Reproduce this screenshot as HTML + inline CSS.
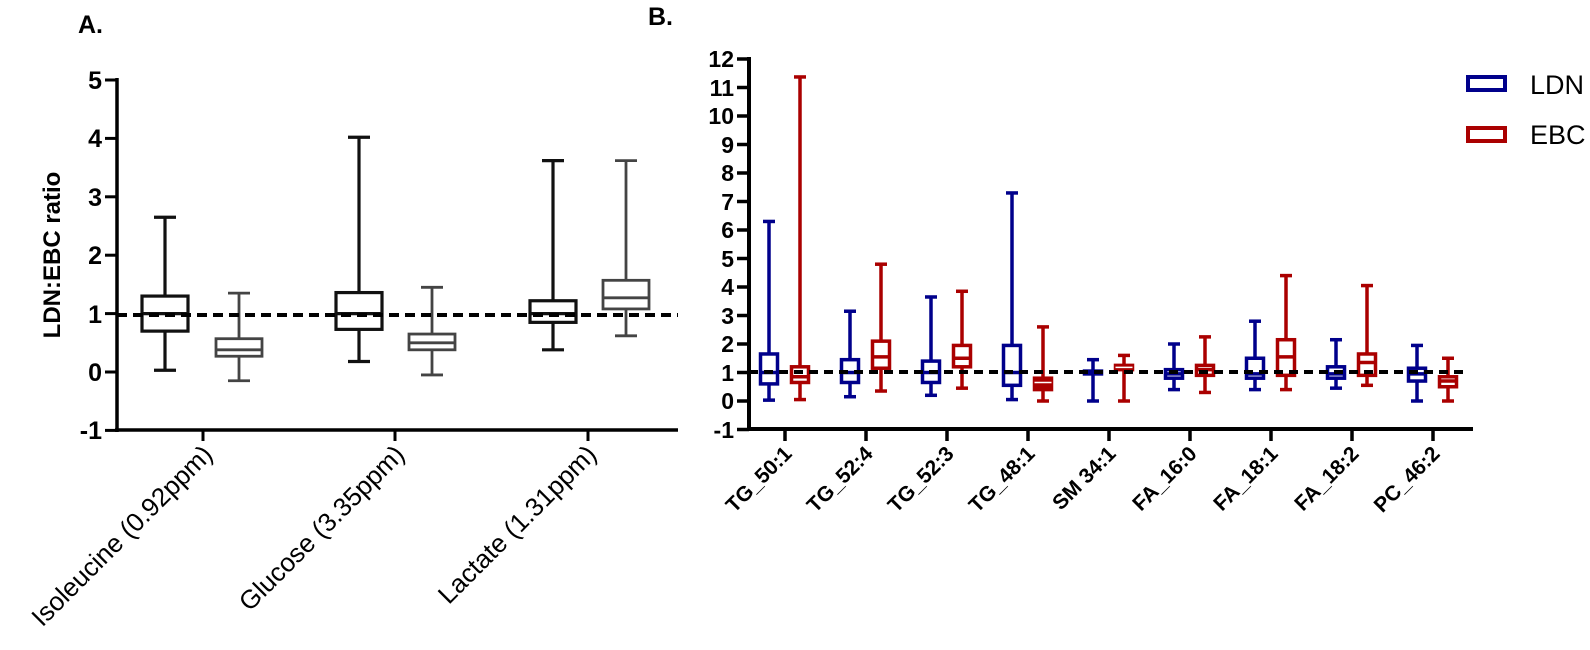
<!DOCTYPE html>
<html><head><meta charset="utf-8"><style>
html,body{margin:0;padding:0;background:#fff;}
svg{display:block;}
.t{font-family:"Liberation Sans Narrow","Liberation Sans",sans-serif;font-weight:bold;}
</style></head><body>
<svg id="s" width="1590" height="650" viewBox="0 0 1590 650" xmlns="http://www.w3.org/2000/svg">
<rect width="1590" height="650" fill="#fff"/>
<text x="78" y="33" font-family="Liberation Sans" font-weight="bold" font-size="25">A.</text>
<text x="648" y="25" font-family="Liberation Sans" font-weight="bold" font-size="25">B.</text>
<text transform="translate(60,255) rotate(-90)" text-anchor="middle" font-family="Liberation Sans" font-weight="bold" font-size="24">LDN:EBC ratio</text>
<g class="t" font-size="25" text-anchor="end">
<text x="102" y="89">5</text><text x="102" y="147">4</text><text x="102" y="206">3</text>
<text x="102" y="264">2</text><text x="102" y="323">1</text><text x="102" y="381">0</text><text x="102" y="439">-1</text>
</g>
<g class="t" font-size="23" text-anchor="end">
<text x="734" y="67">12</text><text x="734" y="96">11</text><text x="734" y="124">10</text>
<text x="734" y="153">9</text><text x="734" y="181">8</text><text x="734" y="210">7</text>
<text x="734" y="238">6</text><text x="734" y="267">5</text><text x="734" y="295">4</text>
<text x="734" y="324">3</text><text x="734" y="352">2</text><text x="734" y="381">1</text>
<text x="734" y="409">0</text><text x="734" y="438">-1</text>
</g>
<g font-family="Liberation Sans" font-size="26" text-anchor="end">
<text transform="translate(214,456) rotate(-45)">Isoleucine (0.92ppm)</text>
<text transform="translate(406,456) rotate(-45)">Glucose (3.35ppm)</text>
<text transform="translate(598,456) rotate(-45)">Lactate (1.31ppm)</text>
</g>
<g font-family="Liberation Sans" font-weight="bold" font-size="21" text-anchor="end">
<text transform="translate(793,455) rotate(-45)">TG_50:1</text>
<text transform="translate(874,455) rotate(-45)">TG_52:4</text>
<text transform="translate(955,455) rotate(-45)">TG_52:3</text>
<text transform="translate(1036,455) rotate(-45)">TG_48:1</text>
<text transform="translate(1117,455) rotate(-45)">SM 34:1</text>
<text transform="translate(1198,455) rotate(-45)">FA_16:0</text>
<text transform="translate(1279,455) rotate(-45)">FA_18:1</text>
<text transform="translate(1360,455) rotate(-45)">FA_18:2</text>
<text transform="translate(1441,455) rotate(-45)">PC_46:2</text>
</g>
<rect x="1468" y="77" width="37" height="13" fill="none" stroke="#00008b" stroke-width="4"/>
<rect x="1468" y="128" width="37" height="13" fill="none" stroke="#aa0000" stroke-width="4"/>
<text x="1530" y="94" font-family="Liberation Sans" font-size="27">LDN</text>
<text x="1530" y="144" font-family="Liberation Sans" font-size="27">EBC</text>
<g id="g"></g>
</svg>
<script>
var g=document.getElementById('g'),h='';
function L(x1,y1,x2,y2,c,w,extra){h+='<line x1="'+x1+'" y1="'+y1+'" x2="'+x2+'" y2="'+y2+'" stroke="'+c+'" stroke-width="'+w+'" '+(extra||'')+'/>';}
L(117,78,117,432,'#000',3.5);L(115,430,678,430,'#000',3.5);
for(var v=-1;v<=5;v++){var y=372-58.4*v;L(105,y,117,y,'#000',3);}
[203,395,588].forEach(function(x){L(x,430,x,441,'#000',3);});
function A(cx,lo,q1,md,q3,hi,c,w){var Y=function(v){return 372-58.4*v;};
L(cx,Y(hi),cx,Y(q3),c,w);L(cx,Y(q1),cx,Y(lo),c,w);L(cx-11,Y(hi),cx+11,Y(hi),c,w);L(cx-11,Y(lo),cx+11,Y(lo),c,w);
h+='<rect x="'+(cx-23)+'" y="'+Y(q3)+'" width="46" height="'+(Y(q1)-Y(q3))+'" fill="none" stroke="'+c+'" stroke-width="'+w+'"/>';
L(cx-23,Y(md),cx+23,Y(md),c,w);}
A(165,0.03,0.7,1.0,1.3,2.65,'#111',3.2);A(239,-0.15,0.27,0.38,0.57,1.35,'#444',2.8);
A(359,0.18,0.73,1.0,1.36,4.02,'#111',3.2);A(432,-0.05,0.38,0.5,0.65,1.45,'#444',2.8);
A(553,0.38,0.85,1.0,1.22,3.62,'#111',3.2);A(626,0.62,1.08,1.27,1.57,3.62,'#444',2.8);
L(117,315,678,315,'#000',4,'stroke-dasharray="10 6"');
L(749,57,749,431,'#000',4);L(747,429,1473,429,'#000',4);
for(var v=-1;v<=12;v++){var y=401-28.5*v;L(737,y,749,y,'#000',3.5);}
for(var i=0;i<9;i++){var x=785+81*i;L(x,429,x,441,'#000',3.5);}
function B(cx,lo,q1,md,q3,hi,c,fill){var Y=function(v){return 401-28.5*v;};var w=3.5;
L(cx,Y(hi),cx,Y(q3),c,w);L(cx,Y(q1),cx,Y(lo),c,w);L(cx-6,Y(hi),cx+6,Y(hi),c,w);L(cx-6,Y(lo),cx+6,Y(lo),c,w);
h+='<rect x="'+(cx-8.5)+'" y="'+Y(q3)+'" width="17" height="'+Math.max(1,Y(q1)-Y(q3))+'" fill="'+(fill?c:'none')+'" stroke="'+c+'" stroke-width="'+w+'"/>';
L(cx-8.5,Y(md),cx+8.5,Y(md),fill?'#fff':c,fill?1.5:w);}
var BL='#00008b',RD='#aa0000';
var d=[
[0.03,0.6,1.0,1.65,6.3, 0.05,0.65,0.85,1.2,11.37,0],
[0.15,0.65,1.0,1.45,3.15, 0.35,1.15,1.55,2.1,4.8,0],
[0.2,0.65,1.0,1.4,3.65, 0.45,1.2,1.5,1.95,3.85,0],
[0.05,0.55,1.0,1.95,7.3, 0,0.4,0.65,0.8,2.6,1],
[0,0.95,1.0,1.05,1.45, 0,1.1,1.18,1.25,1.6,1],
[0.4,0.8,0.95,1.1,2.0, 0.3,0.9,1.1,1.25,2.25,0],
[0.4,0.8,0.95,1.5,2.8, 0.4,0.9,1.55,2.15,4.4,0],
[0.45,0.8,0.95,1.2,2.15, 0.55,0.9,1.35,1.65,4.05,0],
[0,0.7,0.95,1.15,1.95, 0,0.5,0.7,0.85,1.5,0]];
d.forEach(function(r,i){var t=785+81*i;B(t-16,r[0],r[1],r[2],r[3],r[4],BL,0);B(t+15,r[5],r[6],r[7],r[8],r[9],RD,r[10]);});
L(749,372,1467,372,'#000',4,'stroke-dasharray="9 6"');
g.innerHTML=h;
</script>
</body></html>
